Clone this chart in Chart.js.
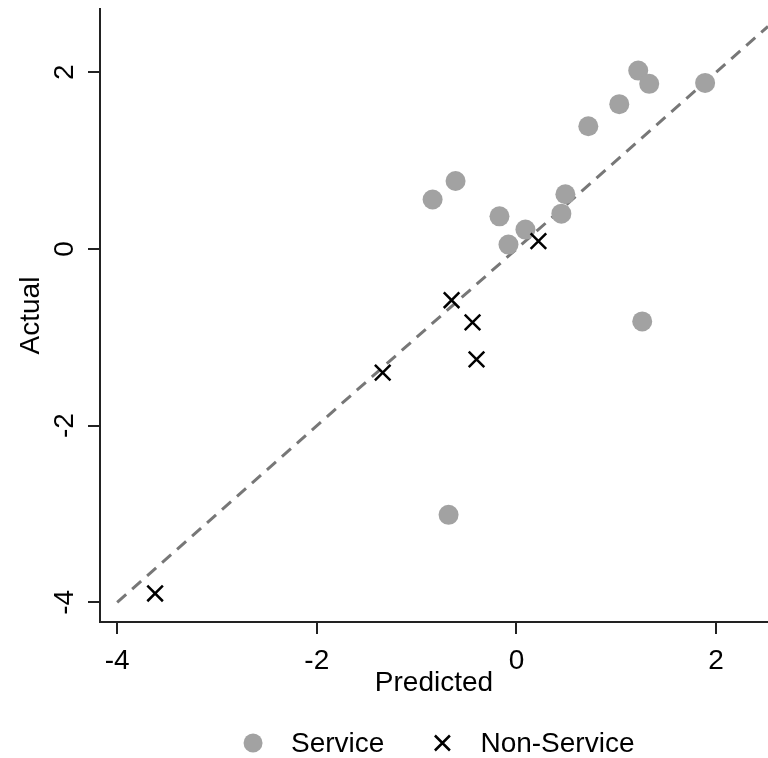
<!DOCTYPE html>
<html>
<head>
<meta charset="utf-8">
<script src="https://cdn.jsdelivr.net/npm/chart.js@4.4.0/dist/chart.umd.min.js"></script>
<style>
  html, body { margin: 0; padding: 0; background: #fff; }
</style>
</head>
<body>
<canvas id="chart" width="768" height="758"></canvas>
<script>
// predicted vs actual
const serviceX = [-0.84, -0.61, -0.17, 0.09, -0.08, 0.49, 0.45, 1.22, 1.33, 1.03, 0.72, 1.89, 1.26, -0.68];
const serviceY = [0.56, 0.77, 0.37, 0.22, 0.05, 0.62, 0.40, 2.02, 1.87, 1.64, 1.39, 1.88, -0.82, -3.01];
const nonServiceX = [0.22, -0.65, -0.44, -0.40, -1.34, -3.62];
const nonServiceY = [0.09, -0.58, -0.83, -1.25, -1.40, -3.90];
const fitX = [-4, 2.52];   // 45 degree reference line
const fitY = [-4, 2.52];
const xTicks = [-4, -2, 0, 2];
const yTicks = [-4, -2, 0, 2];

const FONT = '"Liberation Sans", Arial, sans-serif';
const FS = 28;

function toPoints(xs, ys) {
    return xs.map((x, i) => ({ x: x, y: ys[i] }));
}

const stataBits = {
    id: 'stataBits',
    afterDraw(chart) {
        const ctx = chart.ctx;
        const ys = chart.scales.y;
        ctx.save();
        ctx.fillStyle = '#000';
        ctx.font = FS + 'px ' + FONT;
        ctx.textAlign = 'center';
        ctx.textBaseline = 'middle';

        // rotated y tick labels, Stata style
        ys.ticks.forEach(t => {
            const py = ys.getPixelForValue(t.value);
            ctx.save();
            ctx.translate(64, py);
            ctx.rotate(-Math.PI / 2);
            ctx.fillText(t.label, 0, 1);
            ctx.restore();
        });

        // legend under the x title
        const items = chart.data.datasets.filter(d => d.label);
        const widths = items.map(d => ctx.measureText(d.label).width);
        const markToText = 38;
        const textToMark = 58;
        let total = 9.5;
        widths.forEach((w, i) => { total += markToText + w + (i < widths.length - 1 ? textToMark : 0); });
        let cx = 439 - total / 2 + 9.5;
        const ly = 743;
        ctx.textAlign = 'left';
        items.forEach((d, i) => {
            if (d.pointStyle === 'circle') {
                ctx.fillStyle = d.backgroundColor;
                ctx.beginPath();
                ctx.arc(cx, ly, 9.5, 0, Math.PI * 2);
                ctx.fill();
            } else {
                const h = 7.5;
                ctx.strokeStyle = d.borderColor;
                ctx.lineWidth = 2.5;
                ctx.beginPath();
                ctx.moveTo(cx - h, ly - h); ctx.lineTo(cx + h, ly + h);
                ctx.moveTo(cx + h, ly - h); ctx.lineTo(cx - h, ly + h);
                ctx.stroke();
            }
            ctx.fillStyle = '#000';
            ctx.fillText(d.label, cx + markToText, ly + 1);
            cx += markToText + widths[i] + textToMark;
        });
        ctx.restore();
    }
};

const ctx = document.getElementById('chart').getContext('2d');
const chart = new Chart(ctx, {
    type: 'scatter',
    data: {
        datasets: [
            {
                type: 'line',
                data: toPoints(fitX, fitY),
                borderColor: '#777777',
                borderWidth: 3,
                borderDash: [12, 8],
                pointRadius: 0,
                fill: false,
                order: 3
            },
            {
                label: 'Service',
                data: toPoints(serviceX, serviceY),
                pointStyle: 'circle',
                backgroundColor: '#a2a2a2',
                borderColor: '#a2a2a2',
                borderWidth: 0,
                pointRadius: 10,
                order: 2
            },
            {
                label: 'Non-Service',
                data: toPoints(nonServiceX, nonServiceY),
                pointStyle: 'crossRot',
                backgroundColor: '#000',
                borderColor: '#000',
                borderWidth: 2.5,
                pointRadius: 11,
                order: 1
            }
        ]
    },
    options: {
        responsive: false,
        devicePixelRatio: 1,
        animation: false,
        layout: { autoPadding: false, padding: { top: 9, right: 0, bottom: 56, left: 0 } },
        plugins: {
            legend: { display: false },
            tooltip: { enabled: false }
        },
        scales: {
            x: {
                type: 'linear',
                min: -4.172,
                max: 2.52,
                afterBuildTicks: s => { s.ticks = xTicks.map(v => ({ value: v })); },
                afterFit: s => { s.height = 80; s.paddingLeft = 0; s.paddingRight = 0; },
                border: { display: true, color: '#222', width: 2 },
                grid: { drawOnChartArea: false, drawTicks: true, tickLength: 12, color: '#222', lineWidth: 2 },
                ticks: { color: '#000', padding: 10, maxRotation: 0, font: { family: FONT, size: FS } },
                title: { display: true, text: 'Predicted', color: '#000', padding: { top: 0, bottom: 2 }, font: { family: FONT, size: FS } }
            },
            y: {
                type: 'linear',
                min: -4.223,
                max: 2.717,
                afterBuildTicks: s => { s.ticks = yTicks.map(v => ({ value: v })); },
                afterFit: s => { s.width = 100; s.paddingTop = 0; s.paddingBottom = 0; },
                border: { display: true, color: '#222', width: 2 },
                grid: { drawOnChartArea: false, drawTicks: true, tickLength: 12, color: '#222', lineWidth: 2 },
                ticks: { display: false, font: { family: FONT, size: FS } },
                title: { display: true, text: 'Actual', color: '#000', padding: { top: 14, bottom: 0 }, font: { family: FONT, size: FS } }
            }
        }
    },
    plugins: [stataBits]
});
</script>
</body>
</html>
